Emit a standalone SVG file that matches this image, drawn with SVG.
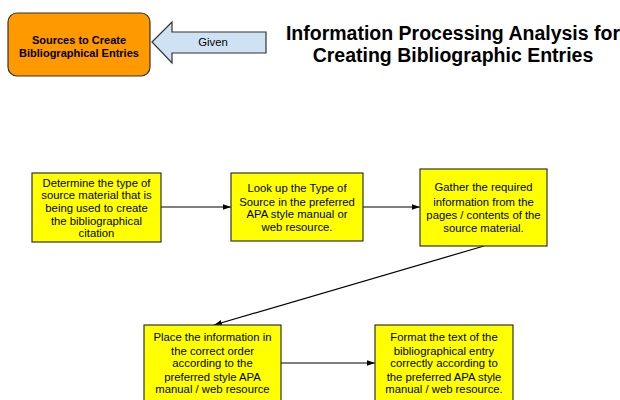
<svg xmlns="http://www.w3.org/2000/svg" width="620" height="400" viewBox="0 0 620 400">
<defs>
<style>
.box{fill:#ffff00;stroke:#333333;stroke-width:1.2}
.t{font-family:"Liberation Sans",Arial,sans-serif;font-size:11.3px;fill:#000;text-anchor:middle}
.b{font-weight:bold;font-size:11px}
.title{font-family:"Liberation Sans",Arial,sans-serif;font-size:19.5px;font-weight:bold;fill:#000;text-anchor:middle}
.c{stroke:#000;stroke-width:1.2;fill:none;marker-end:url(#ah)}
</style>
<marker id="ah" viewBox="0 0 10 10" refX="10" refY="5" markerWidth="8" markerHeight="8" markerUnits="userSpaceOnUse" orient="auto">
<path d="M0,1.5 L10,5 L0,8.5 Z" fill="#000"/>
</marker>
</defs>
<rect width="620" height="400" fill="#fff"/>
<g id="title">
<text class="title" x="453" y="40">Information Processing Analysis for</text>
<text class="title" x="453" y="62">Creating Bibliographic Entries</text>
</g>
<g id="sources">
<rect x="8" y="13" width="142" height="63" rx="9" fill="#ff9900" stroke="#333" stroke-width="1.2"/>
<text class="t b" x="79" y="44">Sources to Create</text>
<text class="t b" x="79" y="57">Bibliographical Entries</text>
</g>
<g id="given">
<path d="M152,42 L172,22 L172,32 L266,32 L266,53 L172,53 L172,63 Z" fill="#cfe2f3" stroke="#333" stroke-width="1.2"/>
<text class="t" x="213" y="46">Given</text>
</g>
<g id="connectors">
<line class="c" x1="161" y1="207" x2="231" y2="207"/>
<line class="c" x1="363" y1="207" x2="420" y2="207"/>
<line class="c" x1="484" y1="246" x2="214" y2="325"/>
<line class="c" x1="281" y1="363" x2="375" y2="363"/>
</g>
<g id="n1">
<rect class="box" x="32" y="173" width="129" height="69"/>
<text class="t" x="96.5" y="187">Determine the type of</text>
<text class="t" x="96.5" y="199">source material that is</text>
<text class="t" x="96.5" y="212">being used to create</text>
<text class="t" x="96.5" y="225">the bibliographical</text>
<text class="t" x="96.5" y="237">citation</text>
</g>
<g id="n2">
<rect class="box" x="231" y="173" width="132" height="68"/>
<text class="t" x="297" y="192">Look up the Type of</text>
<text class="t" x="297" y="206">Source in the preferred</text>
<text class="t" x="297" y="218">APA style manual or</text>
<text class="t" x="297" y="231">web resource.</text>
</g>
<g id="n3">
<rect class="box" x="420" y="169" width="127" height="77"/>
<text class="t" x="483.5" y="191">Gather the required</text>
<text class="t" x="483.5" y="206">information from the</text>
<text class="t" x="483.5" y="219">pages / contents of the</text>
<text class="t" x="483.5" y="232">source material.</text>
</g>
<g id="n4">
<rect class="box" x="144" y="325" width="137" height="90"/>
<text class="t" x="212.5" y="341">Place the information in</text>
<text class="t" x="212.5" y="355">the correct order</text>
<text class="t" x="212.5" y="367">according to the</text>
<text class="t" x="212.5" y="381">preferred style APA</text>
<text class="t" x="212.5" y="393">manual / web resource</text>
</g>
<g id="n5">
<rect class="box" x="375" y="325" width="138" height="90"/>
<text class="t" x="444" y="341">Format the text of the</text>
<text class="t" x="444" y="355">bibliographical entry</text>
<text class="t" x="444" y="367">correctly according to</text>
<text class="t" x="444" y="381">the preferred APA style</text>
<text class="t" x="444" y="393">manual / web resource.</text>
</g>
</svg>
